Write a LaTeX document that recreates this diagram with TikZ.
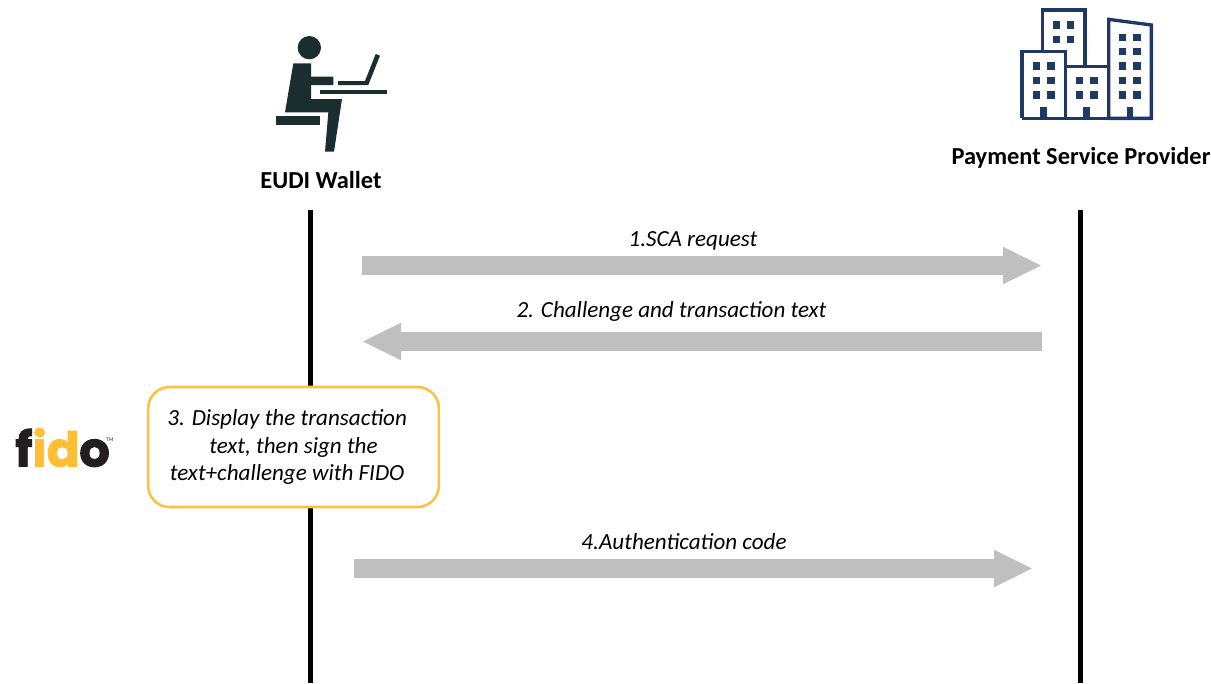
\documentclass[tikz,border=0pt]{standalone}
\usepackage{fontspec}
\usetikzlibrary{arrows.meta}
\setmainfont{Carlito}
\newfontfamily\logofont[FakeBold=2]{Poppins}
\definecolor{flowgray}{HTML}{BFBFBF}
\definecolor{boxamber}{HTML}{FFC040}
\definecolor{navy}{HTML}{203864}
\definecolor{darkteal}{HTML}{1A2E30}
\definecolor{fidoblack}{HTML}{231F20}
\definecolor{fidoamber}{HTML}{FFBE35}
\tikzset{
  lifeline/.style={line width=3.3pt,black},
  flow/.style={line width=14.25pt,flowgray,-{Triangle[length=29.25pt,width=25.8pt]}},
  flowlabel/.style={font=\fontsize{17.3}{20}\selectfont\itshape,anchor=base,inner sep=0pt},
  actor/.style={font=\fontsize{18.3}{22}\selectfont\bfseries,anchor=base,inner sep=0pt},
  notebox/.style={draw=boxamber,line width=1.9pt,fill=white,rounded corners=16pt,minimum width=218pt,minimum height=90pt,inner sep=0pt,align=center,font=\fontsize{17.3}{20.6}\selectfont\itshape},
  bld/.style={draw=navy,line width=2.5pt,miter limit=10},
  win/.style={fill=navy},
  person/.style={fill=darkteal}
}
\begin{document}
\begin{tikzpicture}[x=0.75pt,y=-0.75pt]
\useasboundingbox (0,0) rectangle (1211,683);
% person icon
\begin{scope}[shift={(260,25)},x=0.25pt,y=-0.25pt]
 \fill[person] (148,68) circle (35);
 \fill[person] (100,115)--(153,115)--(153,155)--(220,155)--(220,180)--(153,180)--(153,222)--(246,222)--(222,380)--(195,380)--(205,262)--(75,262)--cycle;
 \fill[person] (47,273) rectangle (180,300);
 \fill[person] (180,195) rectangle (380,208);
 \fill[person] (234,168)--(315,168)--(347,87)--(360,92)--(325,180)--(234,180)--cycle;
\end{scope}
% buildings icon
\begin{scope}[shift={(1010,0)},x=0.25pt,y=-0.25pt]
 \draw[bld] (97,155)--(97,30)--(225,30)--(225,200);
 \draw[bld] (36,355)--(36,155)--(166,155)--(166,355);
 \draw[bld] (166,200)--(296,200);
 \draw[bld] (296,355)--(296,58)--(424,75)--(424,355)--cycle;
 \draw[bld] (36,355)--(296,355);
 \foreach \x/\y in {139/75,182/75,139/118,182/118,
   80/198,123/198,80/242,123/242,80/285,123/285,
   209/242,252/242,209/285,252/285,
   338/112,381/112,338/155,381/155,338/198,381/198,338/242,381/242,338/285,381/285}
   {\fill[win] (\x-11,\y-11) rectangle (\x+11,\y+11);}
 \foreach \x in {101,230,360}
   {\fill[win] (\x-10,320) rectangle (\x+10,355);}
\end{scope}
% actor labels
\node[actor] (wallet) at (321,188) {EUDI Wallet};
\node[actor] (psp) at (1081,164) {Payment Service Provider};
% lifelines
\coordinate (wtop) at (310.5,210);
\coordinate (wbot) at (310.5,683);
\coordinate (ptop) at (1080.5,210);
\coordinate (pbot) at (1080.5,683);
\draw[lifeline] (wtop) -- (wbot);
\draw[lifeline] (ptop) -- (pbot);
% flows
\coordinate (f1a) at (362,265.5);
\coordinate (f1b) at (1042,265.5);
\coordinate (f2a) at (1042,341.5);
\coordinate (f2b) at (362,341.5);
\coordinate (f4a) at (354,568.5);
\coordinate (f4b) at (1033,568.5);
\draw[flow] (f1a) -- (f1b);
\draw[flow] (f2a) -- (f2b);
\draw[flow] (f4a) -- (f4b);
\node[flowlabel] (l1) at (693,246) {1.SCA request};
\node[flowlabel] (l2) at (671.5,317) {2. Challenge and transaction text};
\node[flowlabel] (l4) at (684,549) {4.Authentication code};
% note
\node[notebox] (note) at (293.5,447) {3. Display the transaction\hspace*{9.5pt}\\text, then sign the\hspace*{9.5pt}\\text+challenge with FIDO\hspace*{9.5pt}};
% fido logo
\node[inner sep=0pt,anchor=base west,font=\logofont\bfseries\fontsize{36}{36}\selectfont] (fido) at (15,466.5) {\textcolor{fidoblack}{f}\textcolor{fidoamber}{id}\textcolor{fidoblack}{o}};
\node[inner sep=0pt,anchor=base west,font=\fontsize{4}{4}\selectfont,text=fidoblack] (tm) at (106,441) {TM};
\end{tikzpicture}
\end{document}
